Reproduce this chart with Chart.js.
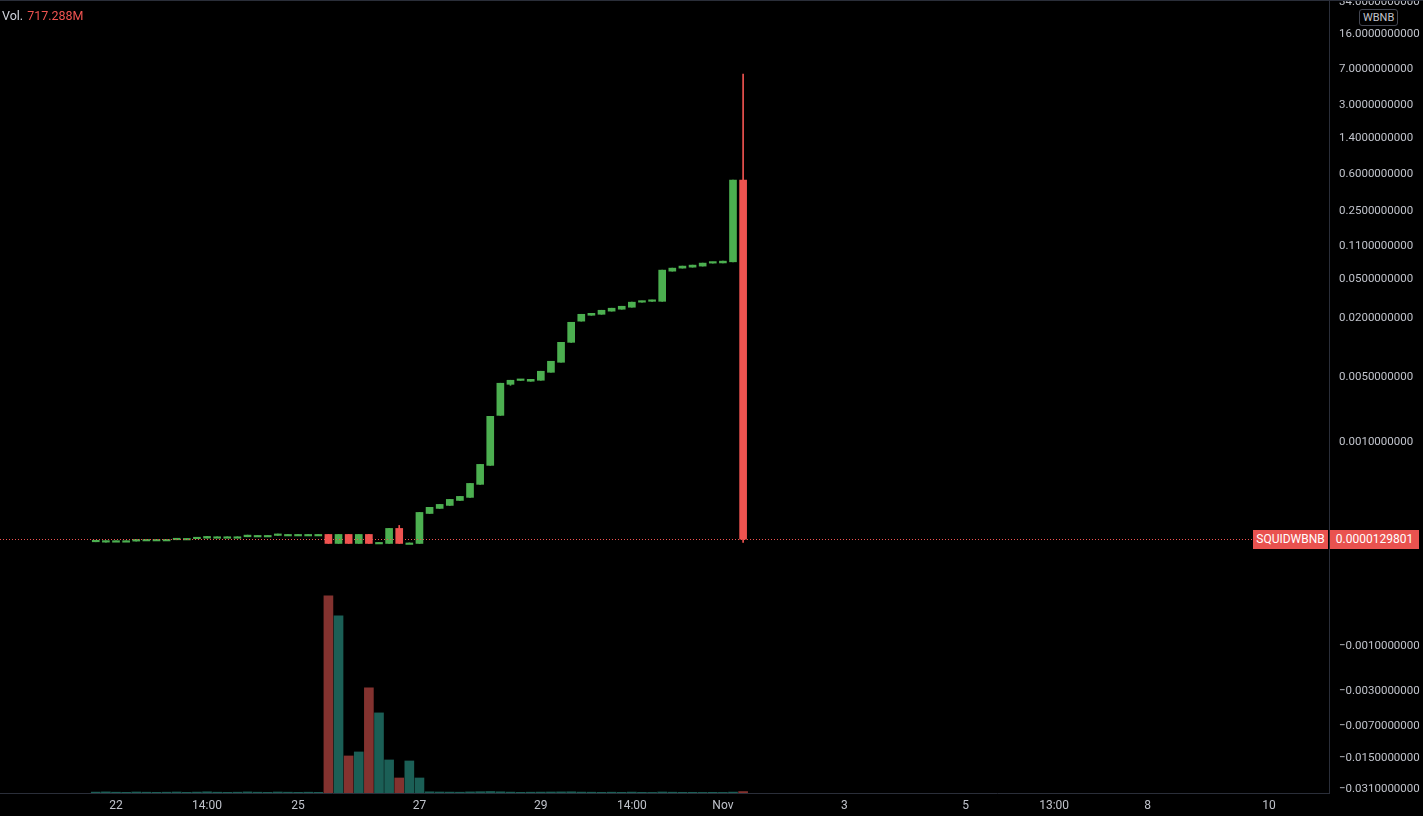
<!DOCTYPE html>
<html>
<head>
<meta charset="utf-8">
<title>SQUIDWBNB</title>
<script src="https://cdn.jsdelivr.net/npm/chart.js@4.4.0/dist/chart.umd.min.js"></script>
<style>
  html, body { margin: 0; padding: 0; background: #000; }
  #wrap { position: relative; width: 1423px; height: 816px; overflow: hidden; font-family: Roboto, "Noto Sans", sans-serif; }
  #chart { position: absolute; left: 0; top: 0; }
  #topLine { position: absolute; left: 0; top: 0; width: 1423px; height: 1px; background: #2a2e39; }
  #volLabel { position: absolute; left: 2px; top: 8px; font-size: 12.5px; color: #d1d4dc; }
  #volLabel span { color: #ef5350; margin-left: 4px; }
  #quoteTag { position: absolute; left: 1359px; top: 9px; padding: 0 3px; height: 15px; line-height: 15px;
              font-size: 11px; color: #c0c3cb; border: 1px solid #434651; border-radius: 3px; background: #000; }
  .tag { position: absolute; height: 19px; line-height: 19px; font-size: 12px; color: #fff; background: #e9524f; text-align: center; }
  #symTag { left: 1253px; width: 75px; }
  #priceTag { left: 1330px; width: 89px; }
</style>
</head>
<body>
<div id="wrap">
  <canvas id="chart" width="1423" height="816"></canvas>
  <div id="topLine"></div>
  <div id="volLabel">Vol.<span id="volValue"></span></div>
  <div id="quoteTag">WBNB</div>
  <div id="symTag" class="tag">SQUIDWBNB</div>
  <div id="priceTag" class="tag"></div>
</div>
<script>
// ─── Data (4h candles, hours since Oct 22 first bar) ─────────────────────────
const hours = [
  -8, -4, 0, 4, 8, 12, 16, 20, 24, 28,
  32, 36, 40, 44, 48, 52, 56, 60, 64, 68,
  72, 76, 80, 84, 88, 92, 96, 100, 104, 108,
  112, 116, 120, 124, 128, 132, 136, 140, 144, 148,
  152, 156, 160, 164, 168, 172, 176, 180, 184, 188,
  192, 196, 200, 204, 208, 212, 216, 220, 224, 228,
  232, 236, 240, 244, 248
];
const opens = [
  6.5e-6, 5.6e-6, 9.2e-6, 9.2e-6, 8.2e-6, 1.25e-5, 1.25e-5, 1.25e-5, 1.17e-5, 1.52e-5,
  1.44e-5, 1.6e-5, 1.98e-5, 1.98e-5, 1.98e-5, 1.98e-5, 2.36e-5, 2.36e-5, 2.36e-5, 2.65e-5,
  2.65e-5, 2.65e-5, 2.65e-5, 2.65e-5, 2.4e-6, 2.65e-5, 2.4e-6, 2.65e-5, 4.9e-6, 2.4e-6,
  4.57e-5, 3.6e-6, 2.4e-6, 1.07e-4, 1.33e-4, 1.5e-4, 1.81e-4, 2.02e-4, 3.1e-4, 5.4e-4,
  1.97e-3, 4.19e-3, 4.6e-3, 4.51e-3, 4.62e-3, 5.59e-3, 7.1e-3, 1.14e-2, 1.88e-2, 2.16e-2,
  2.21e-2, 2.38e-2, 2.49e-2, 2.61e-2, 2.94e-2, 3.0e-2, 3.0e-2, 6.1e-2, 6.55e-2, 6.7e-2,
  6.87e-2, 7.37e-2, 7.4e-2, 7.6e-2, 0.518
];
const highs = [
  6.7e-6, 8.6e-6, 9.2e-6, 9.2e-6, 1.25e-5, 1.25e-5, 1.25e-5, 1.25e-5, 1.52e-5, 1.52e-5,
  1.71e-5, 2.07e-5, 1.98e-5, 1.98e-5, 1.98e-5, 2.45e-5, 2.36e-5, 2.36e-5, 2.74e-5, 2.65e-5,
  2.65e-5, 2.65e-5, 2.65e-5, 2.65e-5, 2.65e-5, 2.65e-5, 2.65e-5, 2.65e-5, 4.9e-6, 4.57e-5,
  5.63e-5, 3.6e-6, 1.12e-4, 1.39e-4, 1.56e-4, 1.88e-4, 2.09e-4, 3.19e-4, 5.55e-4, 1.925e-3,
  4.3e-3, 4.62e-3, 4.64e-3, 4.72e-3, 5.73e-3, 7.27e-3, 1.14e-2, 1.83e-2, 2.21e-2, 2.26e-2,
  2.43e-2, 2.55e-2, 2.67e-2, 2.94e-2, 3.01e-2, 3.08e-2, 6.25e-2, 6.55e-2, 6.87e-2, 7.03e-2,
  7.37e-2, 7.54e-2, 7.72e-2, 0.518, 6.25
];
const lows = [
  6.5e-6, 5.6e-6, 9.2e-6, 9.2e-6, 8.2e-6, 1.25e-5, 1.25e-5, 1.25e-5, 1.17e-5, 1.52e-5,
  1.44e-5, 1.6e-5, 1.98e-5, 1.98e-5, 1.98e-5, 1.98e-5, 2.36e-5, 2.36e-5, 2.36e-5, 2.65e-5,
  2.65e-5, 2.65e-5, 2.65e-5, 2.4e-6, 2.4e-6, 2.4e-6, 2.4e-6, 2.4e-6, 4.9e-6, 2.4e-6,
  2.4e-6, 3.6e-6, 2.4e-6, 1.07e-4, 1.33e-4, 1.5e-4, 1.81e-4, 2.02e-4, 3.1e-4, 5.4e-4,
  1.97e-3, 4.09e-3, 4.6e-3, 4.51e-3, 4.62e-3, 5.59e-3, 7.1e-3, 1.14e-2, 1.88e-2, 2.16e-2,
  2.21e-2, 2.38e-2, 2.49e-2, 2.61e-2, 2.94e-2, 3.0e-2, 3.0e-2, 6.1e-2, 6.55e-2, 6.7e-2,
  6.87e-2, 7.37e-2, 7.4e-2, 7.6e-2, 4.9e-6
];
const closes = [
  6.7e-6, 8.6e-6, 9.2e-6, 9.2e-6, 1.25e-5, 1.25e-5, 1.25e-5, 1.25e-5, 1.52e-5, 1.52e-5,
  1.71e-5, 2.07e-5, 1.98e-5, 1.98e-5, 1.98e-5, 2.45e-5, 2.36e-5, 2.36e-5, 2.74e-5, 2.65e-5,
  2.65e-5, 2.65e-5, 2.65e-5, 2.4e-6, 2.65e-5, 2.4e-6, 2.65e-5, 2.4e-6, 4.9e-6, 4.57e-5,
  2.4e-6, 3.6e-6, 1.12e-4, 1.39e-4, 1.56e-4, 1.88e-4, 2.09e-4, 3.19e-4, 5.55e-4, 1.925e-3,
  4.3e-3, 4.62e-3, 4.64e-3, 4.72e-3, 5.73e-3, 7.27e-3, 1.14e-2, 1.83e-2, 2.21e-2, 2.26e-2,
  2.43e-2, 2.55e-2, 2.67e-2, 2.94e-2, 3.01e-2, 3.08e-2, 6.25e-2, 6.55e-2, 6.87e-2, 7.03e-2,
  7.37e-2, 7.54e-2, 7.72e-2, 0.518, 0.0000129801
];
// volume in millions
const volumes = [
  450, 550, 400, 350, 500, 400, 350, 400, 500, 350,
  450, 600, 400, 350, 400, 550, 400, 350, 500, 400,
  350, 400, 350, 98500, 88500, 18500, 20500, 52500, 40000, 16500,
  7500, 16000, 7500, 600, 500, 450, 400, 550, 650, 750,
  600, 450, 350, 400, 450, 500, 550, 600, 450, 400,
  350, 400, 350, 450, 350, 300, 500, 400, 350, 350,
  300, 350, 300, 450, 717.288
];

// price scale ticks
const priceTicks = [34, 16, 7, 3, 1.4, 0.6, 0.25, 0.11, 0.05, 0.02, 0.005, 0.001,
                    -0.001, -0.003, -0.007, -0.015, -0.031];
// time scale ticks
const timeTicks  = [0, 36, 72, 120, 168, 204, 240, 288, 336, 371, 408, 456];
const timeLabels = ['22', '14:00', '25', '27', '29', '14:00', 'Nov', '3', '5', '13:00', '8', '10'];

// ─── Helpers ─────────────────────────────────────────────────────────────────
const UP = '#4caf50', DOWN = '#ef5350';
const VOL_UP = '#1b5f56', VOL_DOWN = '#83322f';

// TradingView-style log transform (works for negative values too)
function toLog(p) {
  return Math.sign(p) * (Math.log10(Math.abs(p) + 1e-4) + 4);
}
function fmtPrice(v) {
  return (v < 0 ? '\u2212' : '') + Math.abs(v).toFixed(10);
}

const isUp = hours.map((_, i) => closes[i] >= opens[i]);

const bodies = hours.map((h, i) => ({ x: h, y: [toLog(opens[i]), toLog(closes[i])] }));
const wicks  = hours.map((h, i) => ({ x: h, y: [toLog(lows[i]), toLog(highs[i])] }));
const vols   = hours.map((h, i) => ({ x: h, y: volumes[i] }));

const lastPrice = closes[closes.length - 1];
document.getElementById('volValue').textContent = volumes[volumes.length - 1].toFixed(3) + 'M';
document.getElementById('priceTag').textContent = fmtPrice(lastPrice);

// ─── Price line + tag positions ──────────────────────────────────────────────
const priceLine = {
  id: 'priceLine',
  afterDatasetsDraw(chart) {
    const { ctx, chartArea, scales } = chart;
    const y = Math.round(scales.y.getPixelForValue(toLog(lastPrice))) + 0.5;
    ctx.save();
    ctx.strokeStyle = DOWN;
    ctx.lineWidth = 1;
    ctx.setLineDash([1, 2]);
    ctx.beginPath();
    ctx.moveTo(chartArea.left, y);
    ctx.lineTo(chartArea.right, y);
    ctx.stroke();
    ctx.restore();
    const top = (y - 10) + 'px';
    document.getElementById('symTag').style.top = top;
    document.getElementById('priceTag').style.top = top;
  }
};

// ─── Chart ───────────────────────────────────────────────────────────────────
new Chart(document.getElementById('chart'), {
  type: 'bar',
  data: {
    datasets: [
      { label: 'Body', data: bodies, grouped: false, order: 1, barThickness: 7, minBarLength: 1.5,
        backgroundColor: isUp.map(u => u ? UP : DOWN), borderWidth: 0 },
      { label: 'Wick', data: wicks, grouped: false, order: 2, barThickness: 1,
        backgroundColor: isUp.map(u => u ? UP : DOWN), borderWidth: 0 },
      { label: 'Volume', data: vols, grouped: false, order: 3, barThickness: 9, yAxisID: 'vol',
        backgroundColor: isUp.map(u => u ? VOL_UP : VOL_DOWN), borderWidth: 0 },
    ]
  },
  options: {
    responsive: false,
    animation: false,
    devicePixelRatio: 1,
    layout: { padding: 0 },
    plugins: { legend: { display: false }, tooltip: { enabled: false } },
    scales: {
      x: {
        type: 'linear', min: -45.88, max: 479.7, offset: false,
        grid: { display: false, drawTicks: false },
        border: { display: true, color: '#2a2e39' },
        afterBuildTicks: s => { s.ticks = timeTicks.map(v => ({ value: v })); },
        afterFit: s => { s.height = 23; s.paddingLeft = 0; s.paddingRight = 0; },
        ticks: {
          padding: 6, maxRotation: 0, autoSkip: false, color: '#c0c3cb',
          font: { family: 'Roboto', size: 12 },
          callback: (v, i) => timeLabels[i]
        }
      },
      y: {
        type: 'linear', position: 'right', min: -2.5335, max: 5.5501,
        grid: { display: false, drawTicks: false },
        border: { display: true, color: '#2a2e39' },
        afterBuildTicks: s => { s.ticks = priceTicks.map(v => ({ value: toLog(v) })); },
        afterFit: s => { s.width = 94; s.paddingTop = 0; s.paddingBottom = 0; },
        ticks: {
          padding: 10, autoSkip: false, color: '#c0c3cb',
          font: { family: 'Roboto', size: 11.5 },
          callback: (v, i) => fmtPrice(priceTicks[i])
        }
      },
      vol: {
        type: 'linear', display: false, min: 0, max: Math.max(...volumes) * 4.02
      }
    }
  },
  plugins: [priceLine]
});
</script>
</body>
</html>
